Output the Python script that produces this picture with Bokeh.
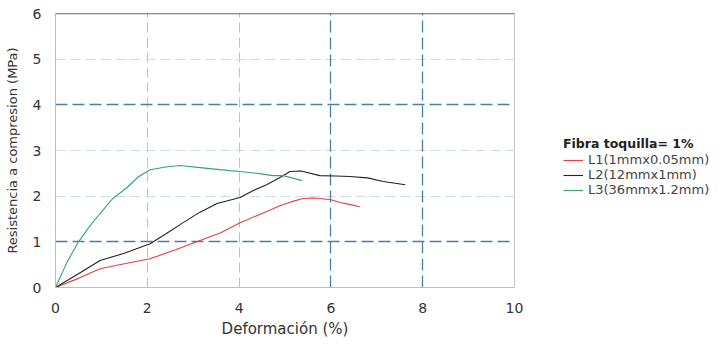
from bokeh.plotting import figure
from bokeh.models import Legend, LegendItem, Grid, FixedTicker, Span
from bokeh.embed import file_html
from bokeh.resources import INLINE

# Data
l1_x = [0, 0.5, 0.97, 1.5, 2.06, 2.6, 3.15, 3.6, 4.02, 4.45, 4.89, 5.15, 5.39, 5.6, 5.76, 6.0, 6.2, 6.4, 6.63]
l1_y = [0, 0.2, 0.41, 0.52, 0.63, 0.82, 1.03, 1.2, 1.42, 1.6, 1.79, 1.88, 1.95, 1.96, 1.95, 1.92, 1.86, 1.82, 1.77]
l2_x = [0, 0.5, 0.97, 1.5, 2.06, 2.4, 2.78, 3.15, 3.52, 4.02, 4.3, 4.6, 4.89, 5.11, 5.35, 5.76, 6.1, 6.41, 6.8, 7.14, 7.62]
l2_y = [0, 0.3, 0.59, 0.75, 0.96, 1.17, 1.42, 1.65, 1.84, 1.97, 2.12, 2.25, 2.41, 2.54, 2.55, 2.45, 2.44, 2.43, 2.4, 2.32, 2.25]
l3_x = [0, 0.25, 0.5, 0.75, 0.97, 1.25, 1.56, 1.8, 2.06, 2.4, 2.71, 3.2, 3.8, 4.02, 4.4, 4.74, 4.96, 5.15, 5.37]
l3_y = [0, 0.55, 1.0, 1.35, 1.62, 1.95, 2.19, 2.42, 2.58, 2.64, 2.67, 2.62, 2.56, 2.54, 2.5, 2.45, 2.45, 2.4, 2.34]

labels = ["L1(1mmx0.05mm)", "L2(12mmx1mm)", "L3(36mmx1.2mm)"]
colors = ["#e53e46", "#222222", "#34a574"]
x_ticks = [0, 2, 4, 6, 8, 10]
y_ticks = [0, 1, 2, 3, 4, 5, 6]

FONT = "DejaVu Sans"

p = figure(frame_width=459, frame_height=274, x_range=(0, 10), y_range=(0, 6),
           output_backend="svg", toolbar_location=None,
           min_border_left=55, min_border_right=195, min_border_top=13, min_border_bottom=42)

p.outline_line_color = "#c8c8c8"
p.background_fill_color = "white"

# grids
p.xgrid.ticker = FixedTicker(ticks=[2, 4])
p.xgrid.grid_line_color = "#a9c6dc"
p.xgrid.grid_line_dash = "10 5"
p.xgrid.grid_line_width = 1
p.ygrid.ticker = FixedTicker(ticks=[2, 3, 5])
p.ygrid.grid_line_color = "#cfdbe5"
p.ygrid.grid_line_dash = "10 5"
p.ygrid.grid_line_width = 1
gx = Grid(dimension=0, ticker=FixedTicker(ticks=[6, 8]), grid_line_color="#4a7ea6",
          grid_line_dash="12 5", grid_line_width=1.3)
gy = Grid(dimension=1, ticker=FixedTicker(ticks=[1, 4]), grid_line_color="#4a7ea6",
          grid_line_dash="12 5", grid_line_width=1.3)
p.add_layout(gx)
p.add_layout(gy)

top = Span(location=6, dimension="width", line_color="#555555", line_width=1.5)
p.add_layout(top)

# axes
p.xaxis.ticker = FixedTicker(ticks=x_ticks)
p.yaxis.ticker = FixedTicker(ticks=y_ticks)
for ax in (p.xaxis[0], p.yaxis[0]):
    ax.major_tick_line_color = None
    ax.minor_tick_line_color = None
    ax.axis_line_color = "#bdbdbd"
    ax.major_label_text_font = FONT
    ax.major_label_text_font_size = "14px"
    ax.major_label_text_color = "#333333"
    ax.axis_label_text_font = FONT
    ax.axis_label_text_font_style = "normal"
    ax.axis_label_text_color = "#333333"
p.xaxis.axis_label = "Deformación (%)"
p.xaxis.axis_label_text_font_size = "15px"
p.xaxis.major_label_standoff = 9
p.xaxis.axis_label_standoff = 4
p.yaxis.axis_label = "Resistencia a compresion (MPa)"
p.yaxis.axis_label_text_font_size = "13px"
p.yaxis.major_label_standoff = 8
p.yaxis.axis_label_standoff = 10

r1 = p.line(l1_x, l1_y, line_color=colors[0], line_width=1.1)
r2 = p.line(l2_x, l2_y, line_color=colors[1], line_width=1.1)
r3 = p.line(l3_x, l3_y, line_color=colors[2], line_width=1.1)

legend = Legend(items=[LegendItem(label=labels[0], renderers=[r1]),
                       LegendItem(label=labels[1], renderers=[r2]),
                       LegendItem(label=labels[2], renderers=[r3])],
                location=(49, 90), title="Fibra toquilla= 1%",
                title_text_font=FONT, title_text_font_style="bold", title_text_font_size="12.5px",
                title_text_color="#222222", title_standoff=1,
                label_text_font=FONT, label_text_font_size="13px", label_text_color="#444444",
                background_fill_alpha=0, border_line_color=None,
                glyph_width=20, glyph_height=10, label_height=10, spacing=0,
                padding=2, margin=0, label_standoff=5)
p.add_layout(legend, "right")

open("out.html", "w").write(file_html(p, INLINE))
